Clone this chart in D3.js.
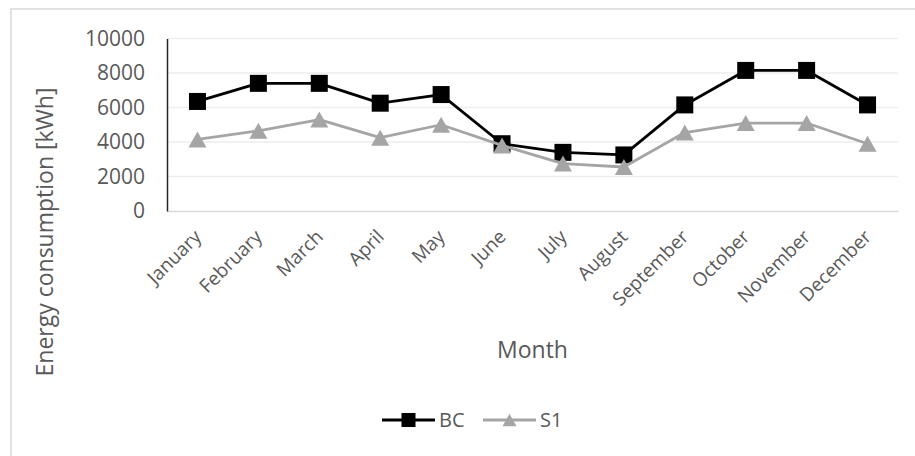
<!DOCTYPE html>
<html>
<head>
<meta charset="utf-8">
<script src="https://cdn.jsdelivr.net/npm/d3@7"></script>
<style>
  html, body { margin: 0; padding: 0; background: #fff; }
  svg { display: block; font-family: "Open Sans", sans-serif; }
</style>
</head>
<body>
<svg id="chart" width="915" height="456"></svg>
<script>
// Monthly energy consumption, two scenarios
const months = ["January", "February", "March", "April", "May", "June",
                "July", "August", "September", "October", "November", "December"];
const bcValues = [6350, 7400, 7400, 6250, 6750, 3900, 3400, 3250, 6150, 8150, 8150, 6150];
const s1Values = [4150, 4650, 5300, 4250, 5000, 3800, 2750, 2550, 4550, 5100, 5100, 3900];
const yTicks = [0, 2000, 4000, 6000, 8000, 10000];
const seriesNames = ["BC", "S1"];

const svg = d3.select("#chart");
const textColor = "#595959";

// triangle marker centred on its bounding box (width : height = 9 : 8)
const boxTriangle = {
  draw(context, size) {
    const w = Math.sqrt(size * 2 * 9 / 8);
    const h = w * 8 / 9;
    context.moveTo(0, -h / 2);
    context.lineTo(w / 2, h / 2);
    context.lineTo(-w / 2, h / 2);
    context.closePath();
  }
};

// outer chart frame
svg.append("rect")
  .attr("x", 11).attr("y", 9)
  .attr("width", 960).attr("height", 500)
  .attr("fill", "#fff")
  .attr("stroke", "#D9D9D9").attr("stroke-width", 1.5);

const plot = { left: 167, right: 898, top: 38.5, bottom: 211 };

const x = d3.scaleBand().domain(months).range([plot.left, plot.right]);
const y = d3.scaleLinear().domain([0, 10000]).range([plot.bottom, plot.top]);

// horizontal gridlines
svg.append("g")
  .selectAll("line")
  .data(yTicks.filter(d => d > 0))
  .join("line")
  .attr("x1", plot.left).attr("x2", plot.right)
  .attr("y1", d => y(d)).attr("y2", d => y(d))
  .attr("stroke", "#EDEDED").attr("stroke-width", 1.5);

// category axis
const xAxis = svg.append("g")
  .attr("transform", `translate(0,${plot.bottom})`)
  .call(d3.axisBottom(x).tickSize(0).tickPadding(0));
xAxis.select(".domain").attr("stroke", "#D9D9D9").attr("stroke-width", 1.5);
xAxis.selectAll(".tick text")
  .attr("fill", textColor)
  .attr("font-size", 19)
  .attr("font-family", "'Open Sans', sans-serif")
  .attr("text-anchor", "end")
  .attr("dy", null).attr("y", null)
  .attr("transform", "translate(0,22) rotate(-45)")
  .attr("dominant-baseline", "central");

// value axis
const yAxis = svg.append("g")
  .attr("transform", `translate(${plot.left},0)`)
  .call(d3.axisLeft(y).tickValues(yTicks).tickSize(0).tickPadding(22).tickFormat(d3.format("d")));
yAxis.select(".domain").attr("stroke", "#262626").attr("stroke-width", 1.5);
yAxis.selectAll(".tick text")
  .attr("fill", textColor)
  .attr("font-size", 21)
  .attr("font-family", "'Open Sans', sans-serif");

// axis titles
svg.append("text")
  .attr("transform", `translate(53,232) rotate(-90)`)
  .attr("text-anchor", "middle")
  .attr("fill", textColor)
  .attr("font-size", 23)
  .text("Energy consumption [kWh]");

svg.append("text")
  .attr("x", (plot.left + plot.right) / 2)
  .attr("y", 358)
  .attr("text-anchor", "middle")
  .attr("fill", textColor)
  .attr("font-size", 23)
  .text("Month");

// series
const series = [
  { name: seriesNames[0], values: bcValues, color: "#000000", symbol: d3.symbolSquare, size: 17 * 17, legendSize: 14 * 14 },
  { name: seriesNames[1], values: s1Values, color: "#A5A5A5", symbol: boxTriangle, size: 18 * 16 / 2, legendSize: 14 * 12.5 / 2 }
];

const line = d3.line()
  .x((d, i) => x(months[i]) + x.bandwidth() / 2)
  .y(d => y(d));

series.forEach(s => {
  const g = svg.append("g");
  g.append("path")
    .datum(s.values)
    .attr("d", line)
    .attr("fill", "none")
    .attr("stroke", s.color)
    .attr("stroke-width", 2.8)
    .attr("stroke-linejoin", "round");
  g.selectAll("path.marker")
    .data(s.values)
    .join("path")
    .attr("class", "marker")
    .attr("transform", (d, i) => `translate(${x(months[i]) + x.bandwidth() / 2},${y(d)})`)
    .attr("d", d3.symbol(s.symbol, s.size))
    .attr("fill", s.color);
});

// legend
const legendStarts = [382, 483];
const legendY = 420;
series.forEach((s, i) => {
  const x0 = legendStarts[i];
  const g = svg.append("g");
  g.append("line")
    .attr("x1", x0).attr("x2", x0 + 53)
    .attr("y1", legendY).attr("y2", legendY)
    .attr("stroke", s.color).attr("stroke-width", 2.8);
  g.append("path")
    .attr("transform", `translate(${x0 + 26.5},${legendY})`)
    .attr("d", d3.symbol(s.symbol, s.legendSize))
    .attr("fill", s.color);
  g.append("text")
    .attr("x", x0 + 57)
    .attr("y", legendY + 7)
    .attr("fill", textColor)
    .attr("font-size", 20)
    .text(s.name);
});
</script>
</body>
</html>
